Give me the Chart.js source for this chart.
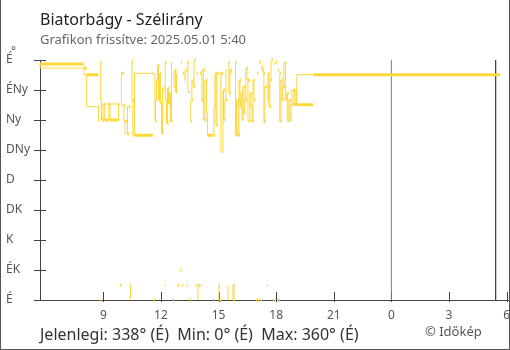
<!DOCTYPE html>
<html>
<head>
<meta charset="utf-8">
<script src="https://cdn.jsdelivr.net/npm/chart.js@4.4.0/dist/chart.umd.min.js"></script>
<style>
  body { margin: 0; background: #fff; font-family: "Noto Sans", sans-serif; }
  #wrap { position: relative; width: 510px; height: 350px; overflow: hidden; }
  #frame { position: absolute; left: 0; top: 0; width: 510px; height: 350px; box-sizing: border-box;
           border: 1px solid #555; border-top: none; pointer-events: none; }
  canvas { position: absolute; left: 0; top: 0; }
  .txt { position: absolute; white-space: pre; line-height: 1; }
</style>
</head>
<body>
<div id="wrap">
  <canvas id="windCanvas" width="510" height="350"></canvas>
  <div class="txt" style="left:40px; top:11px; font-size:16px; color:#222;">Biatorbágy - Szélirány</div>
  <div class="txt" style="left:40px; top:33px; font-size:13px; color:#666;">Grafikon frissítve: 2025.05.01 5:40</div>
  <div class="txt" style="left:11px; top:45px; font-size:12px; color:#555;">°</div>
  <div class="txt" style="left:40px; top:326px; font-size:16px; color:#333;">Jelenlegi: 338° (É)  Min: 0° (É)  Max: 360° (É)</div>
  <div class="txt" style="left:425px; top:325px; font-size:13px; color:#555;">© Időkép</div>
  <div id="frame"></div>
</div>
<script>
// mérési időpontok (óra, előző nap 0:00-tól) és szélirány (fok)
const times = [
  5.70, 7.99, 8.13, 8.75, 8.79, 8.82, 8.86, 8.90, 8.93, 9.03, 9.08, 9.29, 9.35, 9.79, 9.84, 9.86,
  9.94, 10.07, 10.13, 10.26, 10.33, 10.41, 10.45, 10.49, 10.54, 10.62, 11.58, 11.63, 11.69, 11.71,
  11.77, 11.82, 11.87, 11.92, 11.97, 12.03, 12.08, 12.13, 12.18, 12.22, 12.29, 12.34, 12.39, 12.44,
  12.49, 12.55, 12.60, 12.62, 12.68, 12.75, 12.81, 12.86, 12.88, 12.94, 12.99, 13.04, 13.09, 13.14,
  13.20, 13.25, 13.30, 13.35, 13.40, 13.46, 13.51, 13.55, 13.61, 13.67, 13.72, 13.77, 13.82, 13.87,
  13.93, 13.98, 14.03, 14.08, 14.13, 14.21, 14.29, 14.37, 14.42, 14.45, 14.71, 14.76, 14.81, 14.86,
  14.91, 14.97, 15.02, 15.07, 15.12, 15.23, 15.26, 15.33, 15.38, 15.44, 15.49, 15.51, 15.54, 15.59,
  15.64, 15.70, 15.75, 15.80, 15.85, 15.88, 15.93, 16.01, 16.06, 16.11, 16.16, 16.22, 16.27, 16.32,
  16.37, 16.42, 16.48, 16.53, 16.63, 16.68, 16.74, 16.79, 16.84, 16.89, 16.94, 17.00, 17.07, 17.13,
  17.20, 17.26, 17.31, 17.36, 17.41, 17.47, 17.52, 17.57, 17.62, 17.67, 17.73, 17.78, 17.83, 17.88,
  17.93, 17.99, 18.04, 18.09, 18.14, 18.19, 18.25, 18.30, 18.35, 18.40, 18.48, 18.53, 18.58, 18.66,
  18.71, 18.77, 18.82, 18.92, 18.98, 19.05, 19.08, 19.93, 29.65
];
const directions = [
  354, 348, 338, 290, 268, 0, 357, 300, 270, 294, 270, 294, 270, 294, 270, 22,
  340, 292, 268, 249, 290, 22, 0, 358, 300, 247, 340, 0, 340, 268,
  300, 330, 352, 300, 340, 294, 250, 318, 22, 357, 300, 265, 318, 294,
  310, 268, 357, 0, 320, 345, 312, 340, 22, 345, 45, 357, 22, 340,
  22, 330, 345, 22, 357, 312, 0, 268, 300, 330, 320, 360, 22, 340,
  0, 22, 340, 22, 300, 345, 270, 330, 280, 247, 0, 247, 290, 340,
  262, 340, 22, 0, 340, 222, 315, 270, 300, 345, 0, 22, 357, 310,
  345, 340, 22, 0, 22, 357, 247, 300, 247, 330, 290, 310, 270, 320,
  280, 300, 348, 330, 268, 310, 290, 268, 330, 300, 0, 340, 0, 357,
  0, 350, 345, 340, 267, 320, 22, 300, 340, 290, 330, 360, 0, 355,
  0, 357, 0, 345, 0, 340, 268, 330, 300, 320, 356, 300, 310, 268,
  300, 270, 293, 315, 293, 315, 293, 338, 338
];

const dirTicks = [0, 45, 90, 135, 180, 225, 270, 315, 360];
const dirLabels = ["É", "ÉK", "K", "DK", "D", "DNy", "Ny", "ÉNy", "É"];
const hourTicks = [9, 12, 15, 18, 21, 24, 27, 30];
const midnight = 24;
const lastUpdate = 29.43;

const yellow = "#fed73a";

// vékony lépcsős vonal, átfordulásnál (É körül) megszakítva
const stepData = [];
for (let i = 0; i < times.length; i++) {
  if (i > 0 && Math.abs(directions[i] - directions[i - 1]) > 180) {
    stepData.push({ x: times[i], y: null });
  }
  stepData.push({ x: times[i], y: directions[i] });
}

// vastag vízszintes szakaszok minden méréshez
const dashData = [];
for (let i = 0; i < times.length - 1; i++) {
  dashData.push({ x: times[i], y: directions[i] });
  dashData.push({ x: times[i + 1], y: directions[i] });
  dashData.push({ x: times[i + 1], y: null });
}

// rövid osztásjelek a tengelyeken (keresztek)
const tickMarks = {
  id: "tickMarks",
  beforeDatasetsDraw(chart) {
    const { ctx, scales: { x, y } } = chart;
    ctx.save();
    ctx.strokeStyle = "#444";
    ctx.lineWidth = 1;
    ctx.beginPath();
    x.ticks.forEach((t, i) => {
      const px = Math.round(x.getPixelForTick(i)) + 0.5;
      ctx.moveTo(px, x.top - 8);
      ctx.lineTo(px, x.top + 2);
    });
    y.ticks.forEach((t, i) => {
      const py = Math.round(y.getPixelForTick(i)) + 0.5;
      ctx.moveTo(y.right - 6, py);
      ctx.lineTo(y.right + 6, py);
    });
    ctx.stroke();
    ctx.restore();
  }
};

const ctx = document.getElementById("windCanvas").getContext("2d");
new Chart(ctx, {
  type: "line",
  data: {
    datasets: [
      {
        data: dashData,
        borderColor: yellow,
        borderWidth: 3,
        borderCapStyle: "butt",
        pointRadius: 0,
        spanGaps: false,
        clip: false,
        order: 0
      },
      {
        data: stepData,
        borderColor: yellow,
        borderWidth: 1,
        stepped: "after",
        pointRadius: 0,
        spanGaps: false,
        clip: false,
        order: 1
      },
      {
        data: [{ x: midnight, y: 0 }, { x: midnight, y: 360 }],
        borderColor: "#3a8dc9",
        borderWidth: 1,
        pointRadius: 0,
        order: 2
      },
      {
        data: [{ x: lastUpdate, y: 0 }, { x: lastUpdate, y: 360 }],
        borderColor: "#444",
        borderWidth: 1.3,
        pointRadius: 0,
        order: 2
      }
    ]
  },
  options: {
    responsive: false,
    animation: false,
    devicePixelRatio: 1,
    layout: { padding: { left: 6, top: 60, right: 0, bottom: 30 } },
    plugins: {
      legend: { display: false },
      tooltip: { enabled: false }
    },
    scales: {
      x: {
        type: "linear",
        min: 5.7,
        max: 30.17,
        afterBuildTicks: (scale) => { scale.ticks = hourTicks.map(v => ({ value: v })); },
        afterFit: (scale) => { scale.height = 20; },
        grid: { drawOnChartArea: false, tickLength: 8, tickColor: "transparent" },
        border: { color: "#444", width: 1 },
        ticks: {
          padding: 0,
          maxRotation: 0,
          autoSkip: false,
          color: "#555",
          font: { family: "Noto Sans", size: 12 },
          callback: (v) => String(v % 24)
        }
      },
      y: {
        type: "linear",
        min: 0,
        max: 360,
        afterBuildTicks: (scale) => { scale.ticks = dirTicks.map(v => ({ value: v })); },
        afterFit: (scale) => { scale.width = 34; },
        grid: { drawOnChartArea: false, tickLength: 6, tickColor: "transparent" },
        border: { color: "#444", width: 1 },
        ticks: {
          padding: 0,
          crossAlign: "far",
          color: "#555",
          font: { family: "Noto Sans", size: 12 },
          callback: (v, i) => dirLabels[i]
        }
      }
    }
  },
  plugins: [tickMarks]
});
</script>
</body>
</html>
